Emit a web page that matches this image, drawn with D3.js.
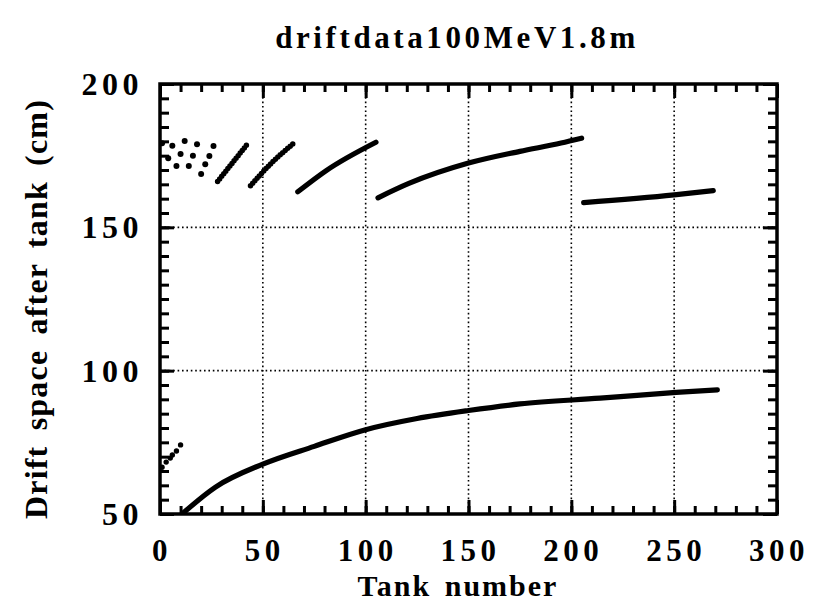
<!DOCTYPE html>
<html>
<head>
<meta charset="utf-8">
<script src="https://cdn.jsdelivr.net/npm/d3@7/dist/d3.min.js"></script>
<style>
  body { margin: 0; background: #fff; }
  text { font-family: "Liberation Serif", "Times New Roman", serif; font-weight: bold; fill: #000; }
</style>
</head>
<body>
<svg id="chart" width="814" height="609"></svg>
<script>
// Drift space after each tank, 100 MeV linac with 1.8 m tanks
const titleText = "driftdata100MeV1.8m";
const xLabel = "Tank number";
const yLabel = "Drift space after tank (cm)";

const xTickLabels = [0, 50, 100, 150, 200, 250, 300];
const yTickLabels = [50, 100, 150, 200];

// first tanks: scattered individual values
const scatterTanks  = [1, 4, 6, 8, 10, 12, 14, 16, 18, 20, 22, 24, 26];
const scatterDrift  = [179.3, 174.1, 178.5, 171.4, 175.6, 180.1, 171.4, 175.0, 179.0, 168.6, 172.0, 174.9, 178.4];

const lowDotTanks = [1, 3, 5, 6, 8, 10];
const lowDotDrift = [66.3, 68.1, 69.5, 70.6, 72.0, 74.1];

// upper branch, one run per tank group
const segATanks = [28, 43];
const segADrift = [166.0, 179.5];
const segBTanks = [44, 54, 65];
const segBDrift = [164.5, 172.3, 179.3];
const segCTanks = [67, 81, 105];
const segCDrift = [162.4, 169.9, 179.7];
const segDTanks = [106, 121, 150, 175, 195, 205];
const segDDrift = [160.3, 165.3, 172.4, 176.5, 179.4, 181.1];
const segETanks = [206, 250, 269];
const segEDrift = [158.6, 161.3, 162.8];

// lower branch
const lowTanks = [11, 27, 50, 75, 100, 125, 150, 175, 214, 251, 271];
const lowDrift = [50.2, 59.4, 67.4, 73.6, 79.4, 83.3, 86.1, 88.4, 90.4, 92.4, 93.3];

const svg = d3.select("#chart");
const plotLeft = 160, plotRight = 777, plotTop = 84, plotBottom = 514;

const x = d3.scaleLinear().domain([0, 300]).range([plotLeft, plotRight]);
const y = d3.scaleLinear().domain([50, 200]).range([plotBottom, plotTop]);

// dotted grid at major ticks
const grid = svg.append("g").attr("stroke", "#000").attr("stroke-width", 1.6)
  .attr("stroke-dasharray", "1.6,2.8");
grid.selectAll("line.v").data(xTickLabels.filter(d => d > 0 && d < 300)).join("line")
  .attr("x1", d => x(d)).attr("x2", d => x(d)).attr("y1", plotTop).attr("y2", plotBottom);
grid.selectAll("line.h").data(yTickLabels.filter(d => d > 50 && d < 200)).join("line")
  .attr("y1", d => y(d)).attr("y2", d => y(d)).attr("x1", plotLeft).attr("x2", plotRight);

// inward ticks on all four sides
function tickAxis(axis, size, values, tx, ty) {
  const g = svg.append("g").attr("transform", `translate(${tx},${ty})`)
    .call(axis.tickValues(values).tickSize(size).tickFormat(""));
  g.select(".domain").remove();
  g.selectAll(".tick line").attr("stroke", "#000").attr("stroke-width", 3);
  return g;
}
const xMinor = d3.range(0, 301, 10);
const yMinor = d3.range(50, 201, 5);
tickAxis(d3.axisBottom(x), -8, xMinor, 0, plotBottom);
tickAxis(d3.axisBottom(x), -14, xTickLabels, 0, plotBottom);
tickAxis(d3.axisTop(x), -8, xMinor, 0, plotTop);
tickAxis(d3.axisTop(x), -14, xTickLabels, 0, plotTop);
tickAxis(d3.axisLeft(y), -9, yMinor, plotLeft, 0);
tickAxis(d3.axisLeft(y), -14, yTickLabels, plotLeft, 0);
tickAxis(d3.axisRight(y), -9, yMinor, plotRight, 0);
tickAxis(d3.axisRight(y), -14, yTickLabels, plotRight, 0);

// frame
svg.append("rect").attr("x", plotLeft).attr("y", plotTop)
  .attr("width", plotRight - plotLeft).attr("height", plotBottom - plotTop)
  .attr("fill", "none").attr("stroke", "#000").attr("stroke-width", 3.5);

// data
svg.append("clipPath").attr("id", "plotClip").append("rect")
  .attr("x", plotLeft).attr("y", plotTop).attr("width", plotRight - plotLeft).attr("height", plotBottom - plotTop);
const plot = svg.append("g").attr("clip-path", "url(#plotClip)");

const line = d3.line().x(d => x(d[0])).y(d => y(d[1])).curve(d3.curveMonotoneX);
function run(tanks, drift, beaded) {
  const pts = tanks.map((t, i) => [t, drift[i]]);
  const p = plot.append("path").datum(pts).attr("d", line)
    .attr("fill", "none").attr("stroke", "#000")
    .attr("stroke-linecap", "round").attr("stroke-linejoin", "round");
  if (beaded) p.attr("stroke-width", 5.5).attr("stroke-dasharray", "0,3.3");
  else p.attr("stroke-width", 5.2);
}
run(segATanks, segADrift, true);
run(segBTanks, segBDrift, true);
run(segCTanks, segCDrift, false);
run(segDTanks, segDDrift, false);
run(segETanks, segEDrift, false);
run(lowTanks, lowDrift, false);

plot.selectAll("circle.s").data(scatterTanks).join("circle")
  .attr("cx", d => x(d)).attr("cy", (d, i) => y(scatterDrift[i])).attr("r", 3).attr("fill", "#000");
plot.selectAll("circle.l").data(lowDotTanks).join("circle")
  .attr("cx", d => x(d)).attr("cy", (d, i) => y(lowDotDrift[i])).attr("r", 2.7).attr("fill", "#000");

// tick labels
svg.append("g").selectAll("text").data(xTickLabels).join("text")
  .attr("x", d => x(d) + 2).attr("y", 561).attr("text-anchor", "middle")
  .attr("font-size", 31).attr("letter-spacing", 4.5).text(d => d);
svg.append("g").selectAll("text").data(yTickLabels).join("text")
  .attr("x", 143).attr("y", d => y(d) + 11).attr("text-anchor", "end")
  .attr("font-size", 32).attr("letter-spacing", 4.5).text(d => d);

// titles
svg.append("text").attr("x", 457).attr("y", 48).attr("text-anchor", "middle")
  .attr("font-size", 31).attr("letter-spacing", 3.6).text(titleText);
svg.append("text").attr("x", 458).attr("y", 596).attr("text-anchor", "middle")
  .attr("font-size", 30).attr("letter-spacing", 2).attr("word-spacing", 4).text(xLabel);
svg.append("text").attr("transform", "translate(47,309) rotate(-90)").attr("text-anchor", "middle")
  .attr("font-size", 32).attr("letter-spacing", 1.2).attr("word-spacing", 6).text(yLabel);
</script>
</body>
</html>
